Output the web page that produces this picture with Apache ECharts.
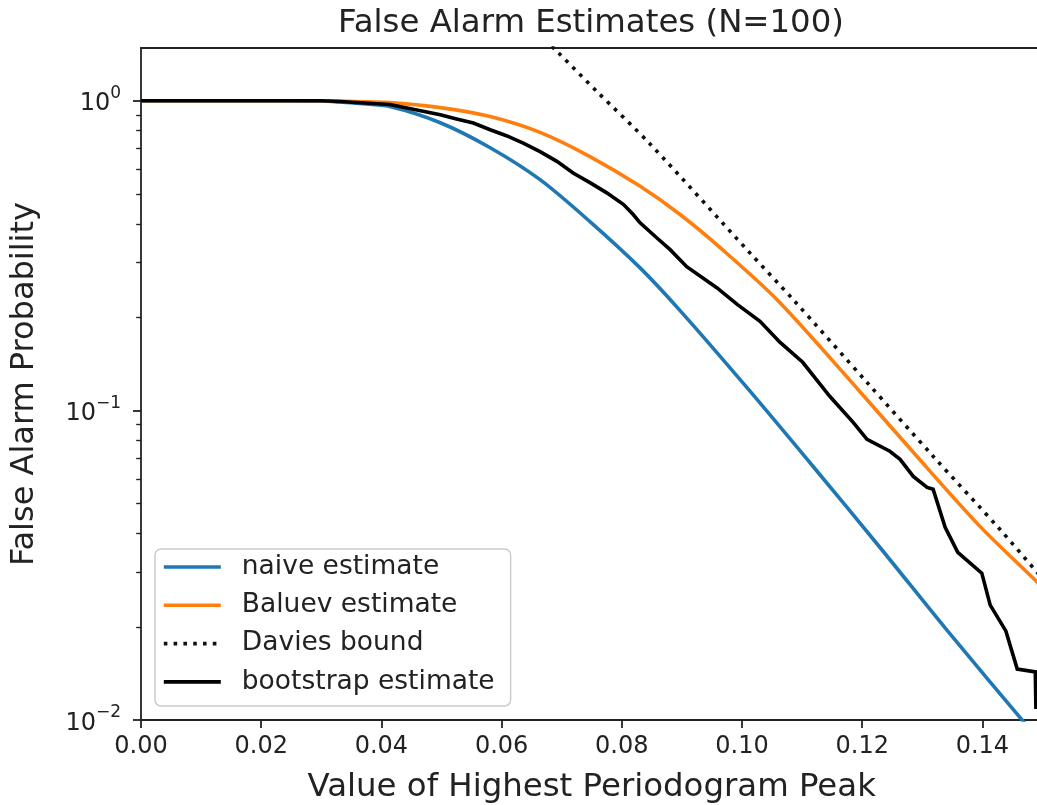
<!DOCTYPE html>
<html>
<head>
<meta charset="utf-8">
<title>False Alarm Estimates (N=100)</title>
<script src="https://cdn.jsdelivr.net/npm/echarts@6/dist/echarts.min.js"></script>
<style>
  html, body { margin: 0; padding: 0; background: #fff; }
  #chart { width: 1037px; height: 805px; }
</style>
</head>
<body>
<div id="chart"></div>
<script>
// Peak height z and false alarm probability for each estimate
const naiveX = [0.000, 0.025, 0.030, 0.0331, 0.0364, 0.0414, 0.0498, 0.0581, 0.0664, 0.0747, 0.0830, 0.0897, 0.1008, 0.1118, 0.1230, 0.1341, 0.1468, 0.1500];
const naiveY = [1.000, 1.000, 0.998, 0.990, 0.979, 0.958, 0.849, 0.705, 0.556, 0.407, 0.289, 0.210, 0.1186, 0.0660, 0.0360, 0.0195, 0.0099, 0.0084];

const baluevX = [0.000, 0.030, 0.0331, 0.0414, 0.0498, 0.0581, 0.0664, 0.0747, 0.0830, 0.0897, 0.0967, 0.1058, 0.1175, 0.1285, 0.1396, 0.1491, 0.1500];
const baluevY = [1.000, 1.000, 0.997, 0.986, 0.950, 0.889, 0.790, 0.660, 0.530, 0.429, 0.331, 0.228, 0.128, 0.0732, 0.0422, 0.0279, 0.0267];

const daviesX = [0.0660, 0.0694, 0.0759, 0.0847, 0.1013, 0.1085, 0.1208, 0.1318, 0.1429, 0.1491, 0.1500];
const daviesY = [1.66, 1.431, 1.069, 0.725, 0.3226, 0.228, 0.1231, 0.0711, 0.0413, 0.0300, 0.0287];

const bootX = [0.000, 0.030, 0.0331, 0.0414, 0.0498, 0.0525, 0.0553, 0.0581, 0.0608, 0.0636, 0.0664, 0.0692, 0.0719, 0.0747, 0.0775, 0.0803, 0.0819, 0.0830, 0.0858, 0.0880, 0.0908, 0.0958, 0.0992, 0.1030, 0.1063, 0.1101, 0.1146, 0.1185, 0.1208, 0.1246, 0.1263, 0.1285, 0.1308, 0.1318, 0.1338, 0.1359, 0.1399, 0.1413, 0.1439, 0.1458, 0.1488, 0.1489, 0.1500];
const bootY = [1.000, 1.000, 0.994, 0.972, 0.901, 0.873, 0.847, 0.806, 0.771, 0.730, 0.685, 0.637, 0.584, 0.544, 0.504, 0.462, 0.429, 0.404, 0.361, 0.331, 0.291, 0.249, 0.220, 0.194, 0.166, 0.143, 0.111, 0.0915, 0.0806, 0.0738, 0.0695, 0.0612, 0.0564, 0.0556, 0.0419, 0.0348, 0.0298, 0.0235, 0.0194, 0.0146, 0.0143, 0.0110, 0.0110];

// Axis ticks
const xTicks = [0.00, 0.02, 0.04, 0.06, 0.08, 0.10, 0.12, 0.14];
const yMajorTicks = [0.01, 0.1, 1];
const yMinorTicks = [0.02, 0.03, 0.04, 0.05, 0.06, 0.07, 0.08, 0.09, 0.2, 0.3, 0.4, 0.5, 0.6, 0.7, 0.8, 0.9];

const pairs = (xs, ys) => xs.map((x, i) => [x, ys[i]]);

const ink = '#222';
const FONT = 'DejaVu Sans';
const LW = 3.6;

const chart = echarts.init(document.getElementById('chart'), null, { renderer: 'canvas' });

chart.setOption({
  backgroundColor: '#fff',
  animation: false,
  textStyle: { fontFamily: FONT, color: ink },
  title: {
    text: 'False Alarm Estimates (N=100)',
    left: 586, top: 3, textAlign: 'center',
    textStyle: { fontFamily: FONT, fontSize: 32.4, fontWeight: 'normal', color: ink }
  },
  // the plot frame runs slightly past the right edge of the canvas
  grid: { left: 141, top: 48, width: 901.5, height: 672, containLabel: false, outerBoundsMode: 'none' },
  legend: {
    orient: 'vertical',
    left: 155, top: 549,
    padding: [3, 16, 9, 7],
    itemWidth: 57, itemHeight: 14, itemGap: 8.3,
    backgroundColor: 'rgba(255,255,255,0.8)',
    borderColor: '#cccccc', borderWidth: 1.5, borderRadius: 6,
    itemStyle: { opacity: 0 },
    lineStyle: { width: LW },
    textStyle: { fontFamily: FONT, fontSize: 26.5, color: ink, lineHeight: 30, padding: [0, 0, 0, 16] },
    data: ['naive estimate', 'Baluev estimate', 'Davies bound', 'bootstrap estimate']
  },
  xAxis: [{
    type: 'value', min: 0, max: 0.15, position: 'bottom',
    name: 'Value of Highest Periodogram Peak',
    nameLocation: 'middle', nameGap: 52,
    nameTextStyle: { fontFamily: FONT, fontSize: 32.4, color: ink },
    axisLine: { show: true, onZero: false, lineStyle: { color: ink, width: 1.8 } },
    axisTick: { show: true, length: 8, lineStyle: { color: ink, width: 1.8 }, customValues: xTicks },
    axisLabel: { fontFamily: FONT, fontSize: 24, color: ink, margin: 15, customValues: xTicks,
      formatter: v => v.toFixed(2) },
    splitLine: { show: false }
  }, {
    type: 'value', min: 0, max: 0.15, position: 'top',
    axisLine: { show: true, onZero: false, lineStyle: { color: ink, width: 1.8 } },
    axisTick: { show: false }, axisLabel: { show: false }, splitLine: { show: false }
  }],
  yAxis: [{
    type: 'log', logBase: 10, min: 0.01, max: 1.48, position: 'left',
    name: 'False Alarm Probability',
    nameLocation: 'middle', nameGap: 100, nameRotate: 90,
    nameTextStyle: { fontFamily: FONT, fontSize: 32, color: ink },
    axisLine: { show: true, onZero: false, lineStyle: { color: ink, width: 1.8 } },
    axisTick: { show: true, length: 8, lineStyle: { color: ink, width: 1.8 }, customValues: yMajorTicks },
    axisLabel: {
      customValues: yMajorTicks, margin: 20,
      formatter: v => '{b|10}{s|' + String(Math.round(Math.log10(v))).replace('-', '\u2212') + '}',
      rich: {
        b: { fontFamily: FONT, fontSize: 24, color: ink, padding: [7, 0, 0, 0] },
        s: { fontFamily: FONT, fontSize: 17, color: ink, verticalAlign: 'top' }
      }
    },
    splitLine: { show: false }
  }, {
    type: 'log', logBase: 10, min: 0.01, max: 1.48, position: 'left',
    axisLine: { show: false },
    axisTick: { show: true, length: 4.8, lineStyle: { color: ink, width: 1.4 }, customValues: yMinorTicks },
    axisLabel: { show: false }, splitLine: { show: false }
  }],
  series: [{
    name: 'naive estimate', type: 'line', showSymbol: false, symbol: 'none',
    smooth: 0.3, clip: true,
    lineStyle: { color: '#1f77b4', width: LW }, itemStyle: { color: '#1f77b4' },
    data: pairs(naiveX, naiveY), z: 2
  }, {
    name: 'Baluev estimate', type: 'line', showSymbol: false, symbol: 'none',
    smooth: 0.3, clip: true,
    lineStyle: { color: '#ff7f0e', width: LW }, itemStyle: { color: '#ff7f0e' },
    data: pairs(baluevX, baluevY), z: 3
  }, {
    name: 'Davies bound', type: 'line', showSymbol: false, symbol: 'none',
    smooth: 0.3, clip: true,
    lineStyle: { color: '#111', width: LW, type: [3.6, 6.2], cap: 'butt' }, itemStyle: { color: '#111' },
    data: pairs(daviesX, daviesY), z: 4
  }, {
    name: 'bootstrap estimate', type: 'line', showSymbol: false, symbol: 'none',
    smooth: false, clip: true,
    lineStyle: { color: '#000', width: LW, join: 'miter' }, itemStyle: { color: '#000' },
    data: pairs(bootX, bootY), z: 5
  }]
});
</script>
</body>
</html>
